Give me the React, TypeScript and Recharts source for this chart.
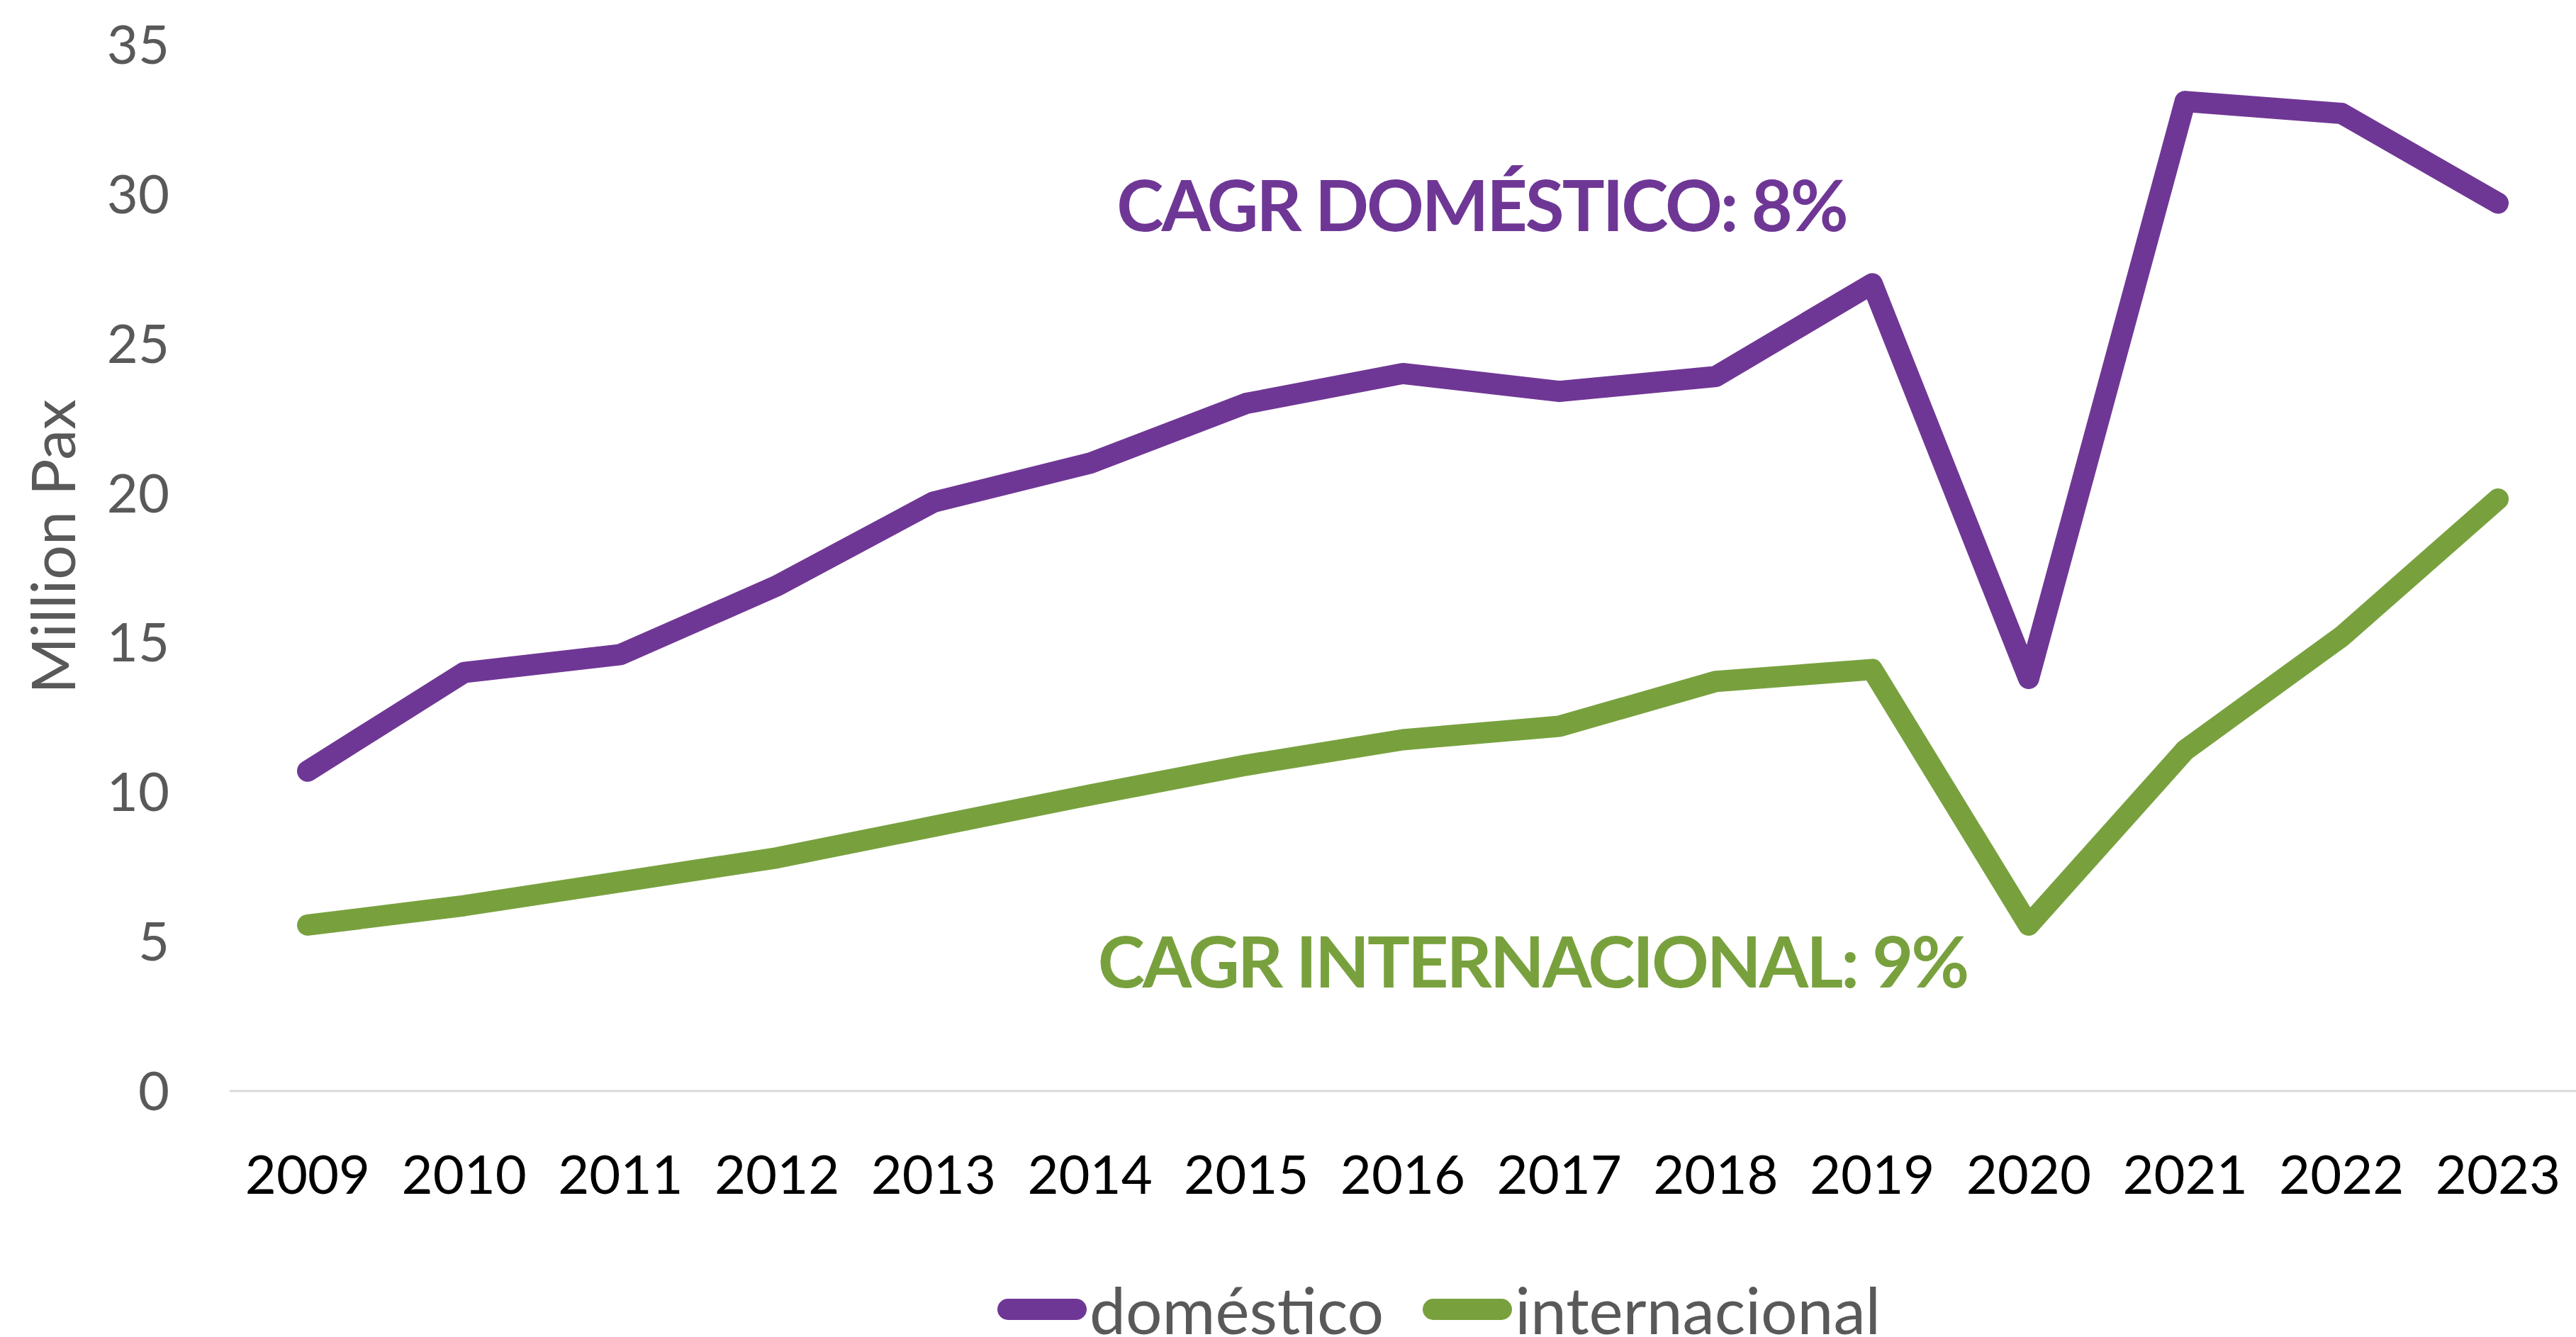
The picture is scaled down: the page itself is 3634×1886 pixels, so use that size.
import React from "react";
import { LineChart, Line, XAxis, YAxis, Legend, ReferenceDot } from "recharts";

const YEARS = ["2009", "2010", "2011", "2012", "2013", "2014", "2015", "2016", "2017", "2018", "2019", "2020", "2021", "2022", "2023"];
const DOMESTICO = [10.7, 14.0, 14.6, 16.9, 19.7, 21.0, 23.0, 24.0, 23.4, 23.9, 27.0, 13.8, 33.1, 32.7, 29.7];
const INTERNACIONAL = [5.55, 6.2, 7.0, 7.8, 8.85, 9.9, 10.9, 11.75, 12.2, 13.7, 14.1, 5.55, 11.4, 15.2, 19.8];
const Y_TICKS = [0, 5, 10, 15, 20, 25, 30, 35];

const PURPLE = "#6f3795";
const GREEN = "#78a13e";
const GRAY = "#595959";
const FONT = "Lato, 'Open Sans', sans-serif";

const data = YEARS.map((year, i) => ({
  year,
  domestico: DOMESTICO[i],
  internacional: INTERNACIONAL[i],
}));

function LegendRow({ payload }: any) {
  return (
    <div
      style={{
        display: "flex",
        justifyContent: "flex-start",
        alignItems: "center",
        height: 78,
        fontFamily: FONT,
        fontSize: 91,
        color: GRAY,
        paddingLeft: 1407,
      }}
    >
      {(payload || []).map((p: any, i: number) => (
        <div key={i} style={{ display: "flex", alignItems: "center", marginRight: i === 0 ? 55 : 0 }}>
          <svg width={126} height={34} style={{ marginRight: 4 }}>
            <line x1={15} y1={17} x2={111} y2={17} stroke={p.color} strokeWidth={30} strokeLinecap="round" />
          </svg>
          <span style={{ lineHeight: "78px" }}>{p.value}</span>
        </div>
      ))}
    </div>
  );
}

function YLabel({ viewBox }: any) {
  const cy = viewBox.y + viewBox.height / 2 - 30;
  return (
    <text
      x={72}
      y={cy}
      transform={`rotate(-90, 72, ${cy})`}
      textAnchor="middle"
      dominantBaseline="central"
      fill={GRAY}
      fontSize={86}
      fontFamily={FONT}
    >
      Million Pax
    </text>
  );
}

export default function App() {
  return (
    <div>
      <style>{"body{margin:0;background:#fff}"}</style>
      <LineChart width={3634} height={1886} data={data} margin={{ top: 63, right: 0, left: 0, bottom: 0 }}>
        <XAxis
          dataKey="year"
          padding={{ left: 110, right: 110 }}
          axisLine={{ stroke: "#d9d9d9", strokeWidth: 3 }}
          tickLine={false}
          tickMargin={85}
          height={269}
          tick={{ fontSize: 76, fill: "#000", fontFamily: FONT }}
          interval={0}
        />
        <YAxis
          domain={[0, 35]}
          ticks={Y_TICKS}
          width={324}
          axisLine={false}
          tickLine={false}
          tickMargin={79}
          tick={{ fontSize: 76, fill: GRAY, fontFamily: FONT }}
          label={{ content: YLabel }}
        />
        <Legend verticalAlign="bottom" content={LegendRow} />
        <Line
          name="doméstico"
          dataKey="domestico"
          stroke={PURPLE}
          strokeWidth={30}
          strokeLinecap="round"
          strokeLinejoin="round"
          dot={false}
          activeDot={false}
          isAnimationActive={false}
        />
        <Line
          name="internacional"
          dataKey="internacional"
          stroke={GREEN}
          strokeWidth={30}
          strokeLinecap="round"
          strokeLinejoin="round"
          dot={false}
          activeDot={false}
          isAnimationActive={false}
        />
        <ReferenceDot
          x="2016"
          y={29.6}
          r={0}
          fill="none"
          stroke="none"
          label={{
            value: "CAGR DOMÉSTICO: 8%",
            position: "center",
            dx: 111,
            fill: PURPLE,
            fontSize: 100,
            fontWeight: 700,
            fontFamily: FONT,
            letterSpacing: -3,
          }}
        />
        <ReferenceDot
          x="2016"
          y={4.3}
          r={0}
          fill="none"
          stroke="none"
          label={{
            value: "CAGR INTERNACIONAL: 9%",
            position: "center",
            dx: 183,
            fill: GREEN,
            fontSize: 100,
            fontWeight: 700,
            fontFamily: FONT,
            letterSpacing: -3,
          }}
        />
      </LineChart>
    </div>
  );
}
